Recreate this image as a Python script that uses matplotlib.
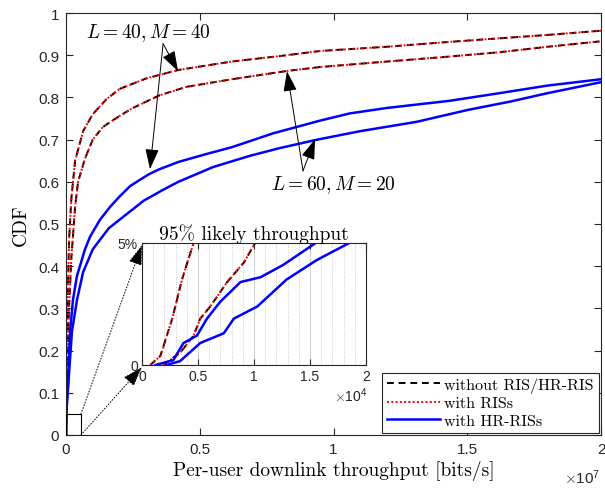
import numpy as np
import matplotlib
matplotlib.use("Agg")
import matplotlib.pyplot as plt
from matplotlib.patches import Rectangle
from matplotlib.ticker import FuncFormatter, MultipleLocator

plt.rcParams['font.family'] = 'Liberation Sans'
plt.rcParams['mathtext.fontset'] = 'cm'

# throughput values in bits/s, CDF values
# L = 40, M = 40
x_l40 = [740, 1640, 2700, 3570, 4600, 1e4, 2e4, 4e4, 7e4, 1.2e5, 2e5, 3.4e5, 6.4e5,
         1e6, 1.5e6, 2e6, 3e6, 4.2e6, 6.2e6, 8e6, 9.5e6, 1.2e7, 1.4e7, 1.62e7, 1.8e7, 2e7]
cdf_l40 = [0, 0.0037, 0.019, 0.035, 0.05, 0.09, 0.15, 0.25, 0.35, 0.47, 0.56, 0.65, 0.72,
           0.76, 0.795, 0.82, 0.845, 0.865, 0.885, 0.898, 0.91, 0.92, 0.93, 0.94, 0.948, 0.958]
x_l40_hr = [1200, 2800, 3700, 4900, 5800, 7000, 8800, 1.06e4, 1.26e4, 1.55e4, 3e4, 7.5e4,
            1.5e5, 2.6e5, 4.1e5, 7.1e5, 9e5, 1.27e6, 1.64e6, 2e6, 2.4e6, 2.77e6, 3.1e6,
            3.5e6, 4.2e6, 5.2e6, 6.2e6, 7.75e6, 9.5e6, 1.06e7, 1.2e7, 1.435e7, 1.62e7,
            1.8e7, 2e7]
cdf_l40_hr = [0, 0.002, 0.009, 0.012, 0.019, 0.026, 0.034, 0.036, 0.041, 0.05, 0.075, 0.12,
              0.244, 0.32, 0.377, 0.44, 0.47, 0.51, 0.54, 0.565, 0.59, 0.605, 0.618,
              0.63, 0.647, 0.665, 0.682, 0.715, 0.745, 0.762, 0.775, 0.792, 0.81,
              0.828, 0.843]

# L = 60, M = 20
x_l60 = [1900, 3400, 4600, 5200, 6100, 7600, 9100, 1.01e4, 2e4, 4e4, 7e4, 1.2e5, 2e5,
         3.4e5, 4.5e5, 7.1e5, 1e6, 1.38e6, 2e6, 2.5e6, 3e6, 3.5e6, 4.5e6, 6.2e6, 8.3e6,
         9.5e6, 1.2e7, 1.4e7, 1.62e7, 1.8e7, 2e7]
cdf_l60 = [0, 0.005, 0.012, 0.019, 0.024, 0.034, 0.042, 0.05, 0.08, 0.14, 0.22, 0.31, 0.42,
           0.54, 0.6, 0.655, 0.70, 0.73, 0.756, 0.775, 0.79, 0.805, 0.825, 0.843, 0.863,
           0.872, 0.885, 0.895, 0.907, 0.92, 0.933]
x_l60_hr = [2200, 3400, 5200, 7300, 8200, 1.03e4, 1.29e4, 1.56e4, 1.85e4, 4e4, 7.5e4, 2.2e5,
            4.1e5, 6.4e5, 1e6, 1.6e6, 2e6, 2.9e6, 3.6e6, 4.2e6, 5.5e6, 6.9e6, 8e6, 9.4e6,
            1.1e7, 1.31e7, 1.5e7, 1.66e7, 1.8e7, 2e7]
cdf_l60_hr = [0, 0.0016, 0.009, 0.013, 0.019, 0.024, 0.035, 0.043, 0.05, 0.08, 0.11, 0.244,
              0.32, 0.386, 0.44, 0.49, 0.51, 0.555, 0.58, 0.60, 0.635, 0.662, 0.68, 0.70,
              0.72, 0.742, 0.77, 0.79, 0.81, 0.836]

# "without RIS" and "with RISs" curves coincide in the figure
curves_plain = [(x_l40, cdf_l40), (x_l60, cdf_l60)]
curves_ris = [(x_l40, cdf_l40), (x_l60, cdf_l60)]
curves_hr = [(x_l40_hr, cdf_l40_hr), (x_l60_hr, cdf_l60_hr)]

legend_labels = ['without RIS/HR-RIS', 'with RISs', 'with HR-RISs']

W, H = 605, 489
fig = plt.figure(figsize=(W / 100, H / 100), dpi=100)
ax = fig.add_axes([66 / W, 53 / H, 535 / W, 422 / H])
axin = fig.add_axes([142 / W, (H - 366) / H, 224 / W, 122 / H])

axis_col = '#262626'
serif = 'cmr10'


def draw_curves(a):
    hs = []
    for i, (x, y) in enumerate(curves_plain):
        h, = a.plot(x, y, color='black', ls=(0, (3.5, 2.5)), lw=1.4)
        if i == 0:
            hs.append(h)
    for i, (x, y) in enumerate(curves_ris):
        h, = a.plot(x, y, color='red', ls=(0, (1, 1.2)), lw=1.4)
        if i == 0:
            hs.append(h)
    for i, (x, y) in enumerate(curves_hr):
        h, = a.plot(x, y, color='#0000ff', ls='-', lw=1.8)
        if i == 0:
            hs.append(h)
    return hs


handles = draw_curves(ax)
ax.set_xlim(0, 2e7)
ax.set_ylim(0, 1)
ax.set_yticks(np.arange(0, 1.01, 0.1))
ax.yaxis.set_major_formatter(FuncFormatter(lambda v, p: f'{v:.1f}'.rstrip('0').rstrip('.') if v else '0'))
ax.set_xticks([0, 5e6, 1e7, 1.5e7, 2e7])
ax.xaxis.set_major_formatter(FuncFormatter(lambda v, p: f'{v / 1e7:g}'))
ax.tick_params(direction='in', length=5, top=True, right=True, labelsize=11,
               colors=axis_col, pad=5)
for s in ax.spines.values():
    s.set_color(axis_col)
    s.set_linewidth(0.8)

ax.set_xlabel('Per-user downlink throughput [bits/s]', family=serif, fontsize=14, labelpad=3)
ax.set_ylabel('CDF', family=serif, fontsize=14, labelpad=6)
fig.text(582 / W, 1 - 478 / H, r'$\times\mathregular{10^{7}}$', ha='center', va='center',
         fontsize=11, color=axis_col)

leg = ax.legend(handles, legend_labels, loc='lower right', prop={'family': serif, 'size': 11.5},
                handlelength=3.3, labelspacing=0.2, borderaxespad=0.15, fancybox=False,
                framealpha=1, edgecolor=axis_col, handletextpad=0.3, borderpad=0.3)
leg.get_frame().set_linewidth(0.8)

# annotations
arrow = dict(arrowstyle='-|>,head_length=0.9,head_width=0.3', color='black', lw=0.7,
             shrinkA=0, shrinkB=0, mutation_scale=14)
ax.text(3.065e6, 0.955, r'$L=40, M=40$', fontsize=14, ha='center', va='center')
ax.annotate('', xy=(4.19e6, 0.862), xytext=(3.63e6, 0.927), arrowprops=arrow)
ax.annotate('', xy=(3.14e6, 0.630), xytext=(3.63e6, 0.927), arrowprops=arrow)
ax.text(9.98e6, 0.595, r'$L=60, M=20$', fontsize=14, ha='center', va='center')
ax.annotate('', xy=(8.26e6, 0.862), xytext=(8.86e6, 0.626), arrowprops=arrow)
ax.annotate('', xy=(9.31e6, 0.701), xytext=(8.86e6, 0.626), arrowprops=arrow)

# zoom box and connectors
box_w, box_h = 5.6e5, 0.05
ax.add_patch(Rectangle((0, 0), box_w, box_h, fill=False, ec='black', lw=0.8, zorder=5))
inv = ax.transData.inverted()
tl = inv.transform(fig.transFigure.transform((142 / W, (H - 246) / H)))
bl = inv.transform(fig.transFigure.transform((142 / W, (H - 368) / H)))
dot_arrow = dict(arrowstyle='-|>,head_length=0.9,head_width=0.3', color='black', lw=0.7,
                 ls=(0, (1, 2)), shrinkA=0, shrinkB=0, mutation_scale=14)
ax.annotate('', xy=tl, xytext=(box_w, box_h), arrowprops=dot_arrow)
ax.annotate('', xy=bl, xytext=(box_w, 0), arrowprops=dot_arrow)

# inset
draw_curves(axin)
axin.set_xlim(0, 2e4)
axin.set_ylim(0, 0.05)
axin.set_xticks([0, 5e3, 1e4, 1.5e4, 2e4])
axin.xaxis.set_major_formatter(FuncFormatter(lambda v, p: f'{v / 1e4:g}'))
axin.xaxis.set_minor_locator(MultipleLocator(1e3))
axin.set_yticks([0, 0.05])
axin.set_yticklabels(['0', '5%'])
axin.tick_params(which='both', direction='in', top=True, right=True, colors=axis_col,
                 labelsize=10, pad=3)
axin.tick_params(which='major', length=4)
axin.tick_params(which='minor', length=0)
axin.grid(True, which='major', axis='x', color='#d0d0d0', lw=0.7, ls='-')
axin.grid(True, which='minor', axis='x', color='#b8b8b8', lw=0.6, ls=(0, (1, 2)))
axin.set_axisbelow(True)
for s in axin.spines.values():
    s.set_color(axis_col)
    s.set_linewidth(0.8)
axin.set_title('95% likely throughput', family=serif, fontsize=14, pad=2)
fig.text(351 / W, 1 - 396 / H, r'$\times\mathregular{10^{4}}$', ha='center', va='center',
         fontsize=10, color=axis_col)

fig.savefig('out.png', dpi=100)
